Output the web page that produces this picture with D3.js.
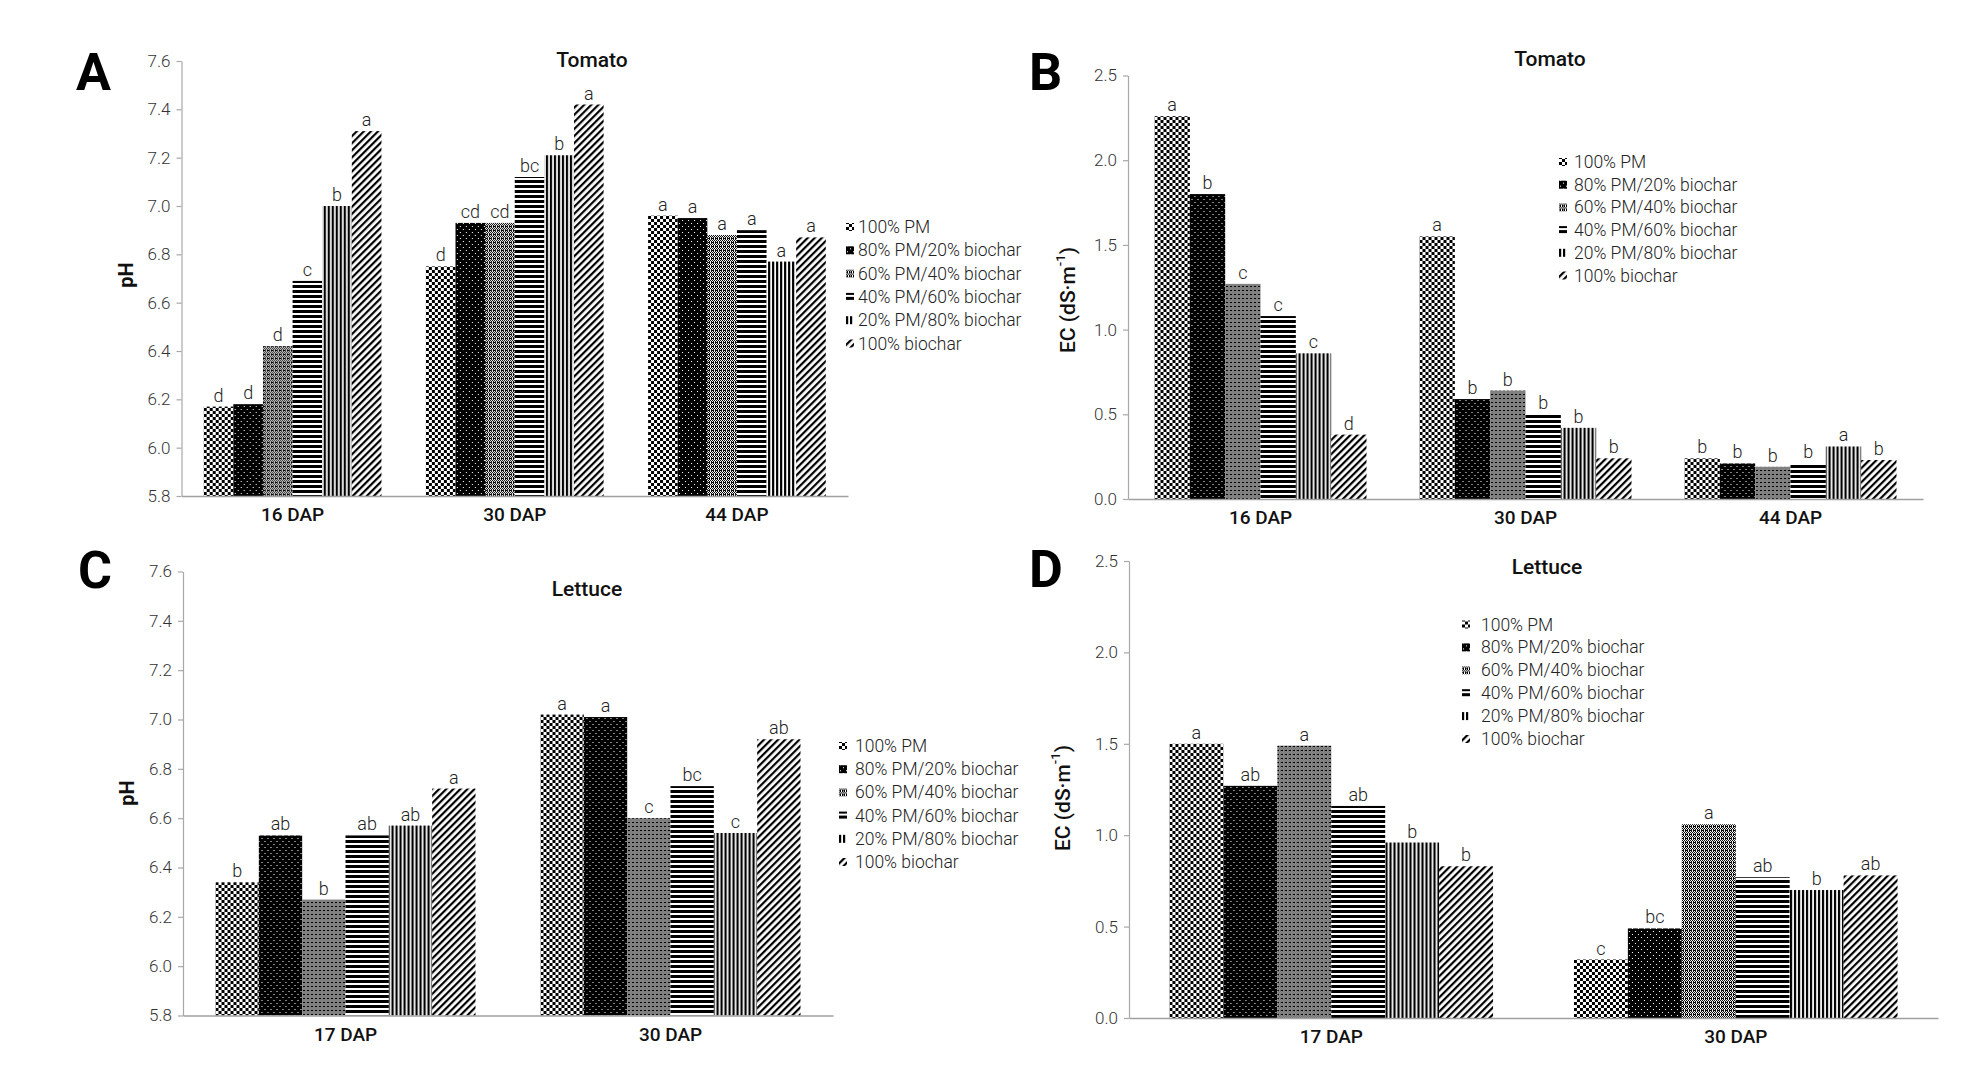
<!DOCTYPE html>
<html>
<head>
<meta charset="utf-8">
<script src="https://cdn.jsdelivr.net/npm/d3@7"></script>
<style>
  html, body { margin: 0; padding: 0; background: #fff; }
  svg { display: block; font-family: Roboto, "Noto Sans", sans-serif; }
</style>
</head>
<body>
<svg id="chart" width="1976" height="1069"></svg>
<script>
// ---------------- DATA ----------------
const seriesNames = ["100% PM", "80% PM/20% biochar", "60% PM/40% biochar",
                     "40% PM/60% biochar", "20% PM/80% biochar", "100% biochar"];

const tomatoDays  = ["16 DAP", "30 DAP", "44 DAP"];
const lettuceDays = ["17 DAP", "30 DAP"];

const phTicks = [5.8, 6.0, 6.2, 6.4, 6.6, 6.8, 7.0, 7.2, 7.4, 7.6];
const ecTicks = [0.0, 0.5, 1.0, 1.5, 2.0, 2.5];

// A: Tomato pH (rows = day, columns = treatment)
const tomatoPH = [
  [6.17, 6.18, 6.42, 6.69, 7.00, 7.31],
  [6.75, 6.93, 6.93, 7.12, 7.21, 7.42],
  [6.96, 6.95, 6.88, 6.90, 6.77, 6.87]
];
const tomatoPHLetters = [
  ["d", "d", "d", "c", "b", "a"],
  ["d", "cd", "cd", "bc", "b", "a"],
  ["a", "a", "a", "a", "a", "a"]
];

// B: Tomato EC
const tomatoEC = [
  [2.26, 1.80, 1.27, 1.08, 0.86, 0.38],
  [1.55, 0.59, 0.64, 0.50, 0.42, 0.24],
  [0.24, 0.21, 0.19, 0.21, 0.31, 0.23]
];
const tomatoECLetters = [
  ["a", "b", "c", "c", "c", "d"],
  ["a", "b", "b", "b", "b", "b"],
  ["b", "b", "b", "b", "a", "b"]
];

// C: Lettuce pH
const lettucePH = [
  [6.34, 6.53, 6.27, 6.53, 6.57, 6.72],
  [7.02, 7.01, 6.60, 6.73, 6.54, 6.92]
];
const lettucePHLetters = [
  ["b", "ab", "b", "ab", "ab", "a"],
  ["a", "a", "c", "bc", "c", "ab"]
];

// D: Lettuce EC
const lettuceEC = [
  [1.50, 1.27, 1.49, 1.16, 0.96, 0.83],
  [0.32, 0.49, 1.06, 0.77, 0.70, 0.78]
];
const lettuceECLetters = [
  ["a", "ab", "a", "ab", "b", "b"],
  ["c", "bc", "a", "ab", "b", "ab"]
];

// ---------------- PATTERNS ----------------
const svg = d3.select("#chart");
const defs = svg.append("defs");

function pat(id, w, h, build, transform) {
  const p = defs.append("pattern").attr("id", id)
    .attr("patternUnits", "userSpaceOnUse").attr("width", w).attr("height", h);
  if (transform) p.attr("patternTransform", transform);
  build(p);
}
function px(p, x, y, w, h, c) {
  p.append("rect").attr("x", x).attr("y", y).attr("width", w).attr("height", h).attr("fill", c);
}
// 0: checkerboard
pat("p0", 6, 6, p => {
  px(p, 0, 0, 6, 6, "#fff");
  px(p, 0, 0, 3, 3, "#000");
  px(p, 3, 3, 3, 3, "#000");
});
// 1: black with white dots
pat("p1", 6, 6, p => {
  px(p, 0, 0, 6, 6, "#000");
  px(p, 1, 1, 1, 1, "#fff");
  px(p, 4, 4, 1, 1, "#fff");
});
// 2: fine grey texture
pat("p2", 4, 4, p => {
  px(p, 0, 0, 4, 4, "#fff");
  px(p, 0, 0, 1, 1, "#000"); px(p, 2, 0, 1, 1, "#000");
  px(p, 1, 1, 1, 1, "#000"); px(p, 3, 1, 1, 1, "#000");
  px(p, 0, 2, 4, 1, "#000");
  px(p, 1, 3, 1, 1, "#000"); px(p, 3, 3, 1, 1, "#000");
  px(p, 2, 2, 1, 1, "#fff");
});
// 3: horizontal lines
pat("p3", 8, 5, p => {
  px(p, 0, 0, 8, 5, "#fff");
  px(p, 0, 0, 8, 3, "#000");
});
// 4: vertical lines
pat("p4", 4, 8, p => {
  px(p, 0, 0, 4, 8, "#fff");
  px(p, 0, 0, 2.2, 8, "#000");
});
// 5: diagonal "/"
pat("p5", 5, 5, p => {
  px(p, 0, 0, 5, 5, "#fff");
  px(p, 0, 0, 2.2, 5, "#000");
}, "rotate(45)");

const fills = seriesNames.map((_, i) => `url(#p${i})`);

// ---------------- PANEL DRAWING ----------------
function drawPanel(cfg) {
  const g = svg.append("g");
  const y = d3.scaleLinear().domain(cfg.domain).range([cfg.y0, cfg.y1]);
  const x0 = d3.scaleBand().domain(cfg.cats).range([cfg.x0, cfg.x1])
    .paddingInner(0.2).paddingOuter(0.1);
  const x1 = d3.scaleBand().domain(d3.range(seriesNames.length)).range([0, x0.bandwidth()]);

  // y axis
  const ya = g.append("g").attr("transform", `translate(${cfg.x0},0)`)
    .call(d3.axisLeft(y).tickValues(cfg.ticks).tickFormat(d3.format(".1f"))
      .tickSize(5).tickSizeOuter(0).tickPadding(6));
  ya.select(".domain").attr("stroke", "#a8a8a8").attr("stroke-width", 1.2);
  ya.selectAll(".tick line").attr("stroke", "#a8a8a8").attr("stroke-width", 1.2);
  ya.selectAll(".tick text").attr("font-family", "Roboto, sans-serif")
    .attr("font-weight", 300).attr("font-size", 17).attr("fill", "#333");

  // bars
  cfg.cats.forEach((cat, ci) => {
    const grp = g.append("g").attr("transform", `translate(${x0(cat)},0)`);
    grp.selectAll("rect").data(cfg.values[ci]).join("rect")
      .attr("x", (d, i) => x1(i))
      .attr("width", x1.bandwidth())
      .attr("y", d => y(d))
      .attr("height", d => y(cfg.domain[0]) - y(d))
      .attr("fill", (d, i) => fills[i]);
    grp.selectAll("text").data(cfg.values[ci]).join("text")
      .attr("x", (d, i) => x1(i) + x1.bandwidth() / 2)
      .attr("y", d => y(d) - 5)
      .attr("text-anchor", "middle")
      .attr("font-size", 18).attr("font-weight", 300).attr("fill", "#222")
      .text((d, i) => cfg.letters[ci][i]);
  });

  // x axis
  const xa = g.append("g").attr("transform", `translate(0,${cfg.y0})`)
    .call(d3.axisBottom(x0).tickSize(0).tickPadding(12).tickSizeOuter(0));
  xa.select(".domain").attr("stroke", "#a0a0a0").attr("stroke-width", 1.5);
  xa.selectAll(".tick text").attr("font-family", "Roboto, sans-serif")
    .attr("font-weight", 500).attr("font-size", 19).attr("fill", "#111");

  // title
  g.append("text").attr("x", cfg.titleX).attr("y", cfg.titleY)
    .attr("text-anchor", "middle").attr("dominant-baseline", "central")
    .attr("font-size", 21).attr("font-weight", 500).attr("fill", "#111")
    .text(cfg.title);

  // y label
  const yl = g.append("text")
    .attr("transform", `translate(${cfg.ylabX},${cfg.ylabY}) rotate(-90)`)
    .attr("text-anchor", "middle").attr("dominant-baseline", "central")
    .attr("fill", "#111");
  if (cfg.ylab === "pH") {
    yl.attr("font-size", 20).attr("font-weight", 700).text("pH");
  } else {
    yl.attr("font-size", 21).attr("font-weight", 500);
    yl.append("tspan").text("EC (dS·m");
    yl.append("tspan").attr("font-size", 13).attr("dy", -8).text("-1");
    yl.append("tspan").attr("dy", 8).text(")");
  }

  // panel letter
  g.append("text").attr("x", cfg.letterX).attr("y", cfg.letterY)
    .attr("font-size", 52).attr("font-weight", 700).attr("fill", "#000")
    .attr("font-family", "Roboto, sans-serif")
    .text(cfg.panel);

  // legend
  const lg = g.append("g").attr("transform", `translate(${cfg.legX},${cfg.legY})`);
  seriesNames.forEach((name, i) => {
    const row = lg.append("g").attr("transform", `translate(0,${i * cfg.legStep})`);
    row.append("rect").attr("x", 0).attr("y", -4).attr("width", 8).attr("height", 8)
      .attr("fill", fills[i]);
    row.append("text").attr("x", cfg.legTextDx).attr("y", 0)
      .attr("dominant-baseline", "central")
      .attr("font-size", 17.5).attr("font-weight", 300).attr("fill", "#222")
      .text(name);
  });
}

drawPanel({
  panel: "A", title: "Tomato", ylab: "pH",
  cats: tomatoDays, values: tomatoPH, letters: tomatoPHLetters,
  domain: [5.8, 7.6], ticks: phTicks,
  x0: 181.5, x1: 848, y0: 496, y1: 61,
  titleX: 592, titleY: 60, ylabX: 126, ylabY: 275,
  letterX: 76, letterY: 90,
  legX: 846, legY: 227, legStep: 23.3, legTextDx: 12
});

drawPanel({
  panel: "B", title: "Tomato", ylab: "EC",
  cats: tomatoDays, values: tomatoEC, letters: tomatoECLetters,
  domain: [0, 2.5], ticks: ecTicks,
  x0: 1128, x1: 1923, y0: 499, y1: 75.5,
  titleX: 1550, titleY: 59, ylabX: 1068, ylabY: 300,
  letterX: 1029, letterY: 90,
  legX: 1559, legY: 162, legStep: 22.7, legTextDx: 15
});

drawPanel({
  panel: "C", title: "Lettuce", ylab: "pH",
  cats: lettuceDays, values: lettucePH, letters: lettucePHLetters,
  domain: [5.8, 7.6], ticks: phTicks,
  x0: 183, x1: 833, y0: 1015.5, y1: 571.5,
  titleX: 587, titleY: 589, ylabX: 127, ylabY: 793,
  letterX: 78, letterY: 588,
  legX: 839, legY: 746, legStep: 23.2, legTextDx: 16
});

drawPanel({
  panel: "D", title: "Lettuce", ylab: "EC",
  cats: lettuceDays, values: lettuceEC, letters: lettuceECLetters,
  domain: [0, 2.5], ticks: ecTicks,
  x0: 1129, x1: 1938, y0: 1018, y1: 561,
  titleX: 1547, titleY: 567, ylabX: 1063, ylabY: 798,
  letterX: 1029, letterY: 587,
  legX: 1462, legY: 624.5, legStep: 22.9, legTextDx: 19
});
</script>
</body>
</html>
